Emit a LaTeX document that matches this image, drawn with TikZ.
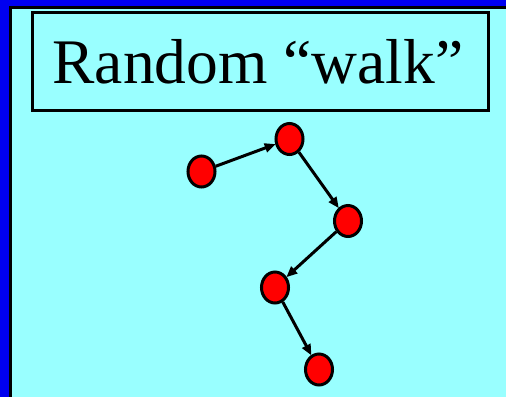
\documentclass[tikz,border=0pt]{standalone}
\usepackage{fontspec}
\setmainfont{Liberation Serif}
\usetikzlibrary{shapes.geometric,arrows.meta}
\definecolor{bgcyan}{RGB}{153,255,255}
\definecolor{bordblue}{RGB}{0,0,240}
\definecolor{dotred}{RGB}{255,0,0}
\tikzset{
  walkdot/.style={ellipse,draw=black,line width=3pt,fill=dotred,minimum width=27pt,minimum height=31pt,inner sep=0pt},
  walkarrow/.style={line width=3pt,-{Triangle[length=11pt,width=9pt]},shorten >=-0.5pt},
  titlebox/.style={draw=black,line width=3pt}
}
\begin{document}
\begin{tikzpicture}[x=1pt,y=-1pt]
\useasboundingbox (0,0) rectangle (506,397);
\fill[bordblue] (0,0) rectangle (506,397);
\fill[black] (9,5.5) rectangle (506,397);
\fill[bgcyan] (12,8.5) rectangle (506,397);
\draw[titlebox] (32,12) rectangle (488,110);
\node[anchor=base,inner sep=0pt,font=\fontsize{63.5}{63.5}\selectfont] (title) at (258,83) {Random “walk”};
\node[walkdot] (n1) at (201.5,171.5) {};
\node[walkdot] (n2) at (289.5,139) {};
\node[walkdot] (n3) at (348,221) {};
\node[walkdot] (n4) at (275,287.5) {};
\node[walkdot] (n5) at (319,369.5) {};
\draw[walkarrow] (n1) -- (n2);
\draw[walkarrow] (n2) -- (n3);
\draw[walkarrow] (n3) -- (n4);
\draw[walkarrow] (n4) -- (n5);
\end{tikzpicture}
\end{document}
